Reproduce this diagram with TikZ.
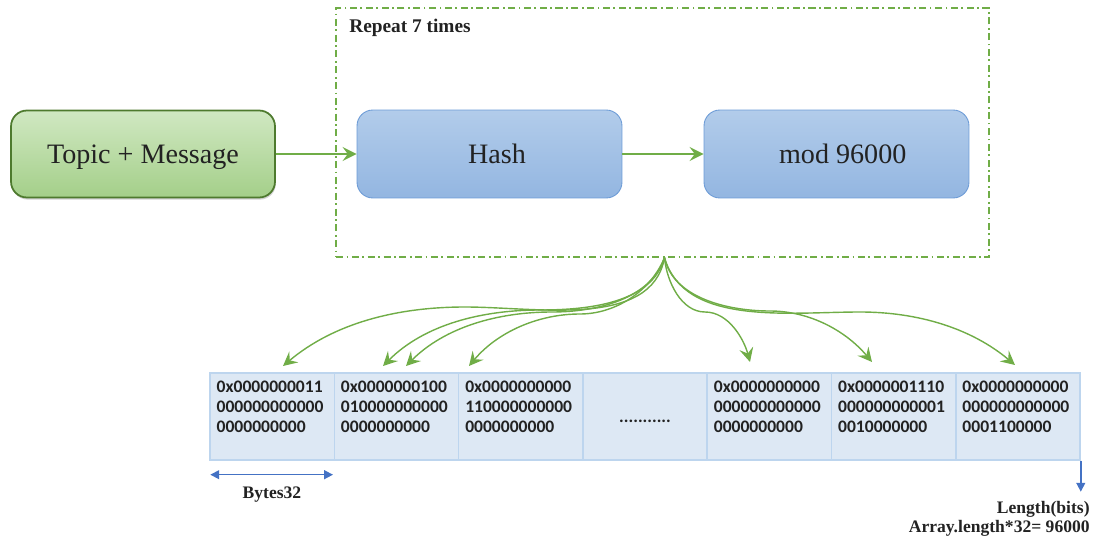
\documentclass[tikz,border=0pt]{standalone}
\usepackage{fontspec}
\setmainfont{Liberation Serif}
\newfontfamily\cellfont{Carlito}
\usetikzlibrary{arrows.meta,shadows,calc}

\definecolor{flowgreen}{HTML}{70AD47}
\definecolor{boxgreenT}{HTML}{D0E8C2}
\definecolor{boxgreenB}{HTML}{A4CF89}
\definecolor{boxgreenD}{HTML}{4E7A2E}
\definecolor{boxblueT}{HTML}{B2CCEA}
\definecolor{boxblueB}{HTML}{93B6E1}
\definecolor{boxblueD}{HTML}{6C9BD6}
\definecolor{cellfill}{HTML}{DDE8F4}
\definecolor{celledge}{HTML}{BDD5EE}
\definecolor{markblue}{HTML}{4472C4}
\definecolor{inktext}{HTML}{222222}

\tikzset{
  tip/.style={-{Stealth[length=8pt, width=8pt, inset=3pt]}},
  inputbox/.style={rounded corners=9pt, top color=boxgreenT, bottom color=boxgreenB,
    draw=boxgreenD, line width=1pt, minimum width=5.28cm, minimum height=1.74cm,
    drop shadow={shadow xshift=0.5pt, shadow yshift=-1.2pt, opacity=0.35},
    font=\fontsize{16}{18}\selectfont, text=inktext, text depth=0pt},
  stagebox/.style={rounded corners=9pt, top color=boxblueT, bottom color=boxblueB,
    draw=boxblueD, line width=0.5pt, minimum width=5.3cm, minimum height=1.76cm,
    font=\fontsize{16}{18}\selectfont, text=inktext, text depth=0pt},
  loopbox/.style={draw=flowgreen, line width=0.7pt,
    dash pattern=on 4pt off 2pt on 1pt off 2pt, minimum width=13.06cm, minimum height=4.98cm},
  flow/.style={draw=flowgreen, line width=0.9pt, tip},
  fan/.style={draw=flowgreen, line width=0.8pt, tip},
  cellbox/.style={fill=cellfill, draw=celledge, line width=0.8pt,
    minimum width=2.486cm, minimum height=1.74cm, inner sep=0pt},
  celltext/.style={anchor=north west, inner sep=0pt, align=left, text=inktext,
    font=\cellfont\bfseries\fontsize{10}{11.6}\selectfont},
  marker/.style={draw=markblue, line width=0.9pt},
  caption/.style={font=\bfseries\fontsize{10}{11}\selectfont, text=inktext, inner sep=0pt},
}

\begin{document}
\begin{tikzpicture}[x=0.02cm, y=-0.02cm]
\useasboundingbox (0,0) rectangle (1093,537);

% processing stages
\node[loopbox] (loop) at (662.5,132.5) {};
\node[caption, anchor=west, font=\bfseries\fontsize{11}{12}\selectfont] (rep) at (349,28) {Repeat 7 times};
\node[inputbox] (topic) at (143,154) {Topic + Message};
\node[stagebox] (hash) at (489.5,154) {\hspace*{0.3cm}Hash};
\node[stagebox] (mod) at (836.5,154) {\hspace*{0.25cm}mod 96000};

\draw[flow] (topic.east) -- (hash.west);
\draw[flow] (hash.east) -- (mod.west);

% bit array cells
\foreach \i in {1,...,7} {
  \node[cellbox] (c\i) at ({210+124.3*(\i-0.5)},416.5) {};
}
\node[celltext] (v1) at ($(c1.north west)+(7,8)$) {0x0000000011\\000000000000\\0000000000};
\node[celltext] (v2) at ($(c2.north west)+(7,8)$) {0x0000000100\\010000000000\\0000000000};
\node[celltext] (v3) at ($(c3.north west)+(7,8)$) {0x0000000000\\110000000000\\0000000000};
\node[celltext, anchor=center] (v4) at ($(c4.center)+(0,5)$) {...........};
\node[celltext] (v5) at ($(c5.north west)+(7,8)$) {0x0000000000\\000000000000\\0000000000};
\node[celltext] (v6) at ($(c6.north west)+(7,8)$) {0x0000001110\\000000000001\\0010000000};
\node[celltext] (v7) at ($(c7.north west)+(7,8)$) {0x0000000000\\000000000000\\0001100000};

% positions set by the seven hash results
\coordinate (src) at ($(loop.south)+(2,0)$);
\coordinate (t1) at (283,366);
\coordinate (t2) at (383,366);
\coordinate (t3) at (406,366);
\coordinate (t4) at (469,366);
\coordinate (t5) at (750,362);
\coordinate (t6) at (872,362);
\coordinate (t7) at (1015,365);
% where each curve levels out
\coordinate (m1) at (465,307);
\coordinate (m2) at (540,310);
\coordinate (m3) at (552,312);
\coordinate (m4) at (580,314);
\coordinate (m5) at (705,312);
\coordinate (m6) at (770,311);
\coordinate (m7) at (860,312);

\draw[fan] (src) to[out=-100, in=0, looseness=0.9] (m1) to[out=180, in=40, looseness=0.9] (t1);
\draw[fan] (src) to[out=-105, in=0, looseness=0.9] (m2) to[out=180, in=45, looseness=0.9] (t2);
\draw[fan] (src) to[out=-108, in=0, looseness=0.9] (m3) to[out=180, in=45, looseness=0.9] (t3);
\draw[fan] (src) to[out=-112, in=0, looseness=0.9] (m4) to[out=180, in=50, looseness=0.9] (t4);
\draw[fan] (src) to[out=-85, in=180, looseness=0.9] (m5) to[out=0, in=105, looseness=0.9] (t5);
\draw[fan] (src) to[out=-78, in=180, looseness=0.9] (m6) to[out=0, in=130, looseness=0.9] (t6);
\draw[fan] (src) to[out=-74, in=180, looseness=0.9] (m7) to[out=0, in=140, looseness=0.9] (t7);

% size markers
\coordinate (bl) at ($(c1.south west)+(1,14)$);
\coordinate (br) at ($(c1.south east)+(-2,14)$);
\draw[marker, {Triangle[length=5pt,width=5pt]}-{Triangle[length=5pt,width=5pt]}] (bl) -- (br);
\node[caption] (bytes) at (272,495) {Bytes32};

\coordinate (lend) at ($(c7.south east)+(0,31)$);
\draw[marker, -{Triangle[length=5pt,width=5pt]}] (c7.south east) -- (lend);
\node[caption, anchor=east] (len1) at (1090,509) {Length(bits)};
\node[caption, anchor=east] (len2) at (1090,528) {Array.length*32= 96000};
\end{tikzpicture}
\end{document}
